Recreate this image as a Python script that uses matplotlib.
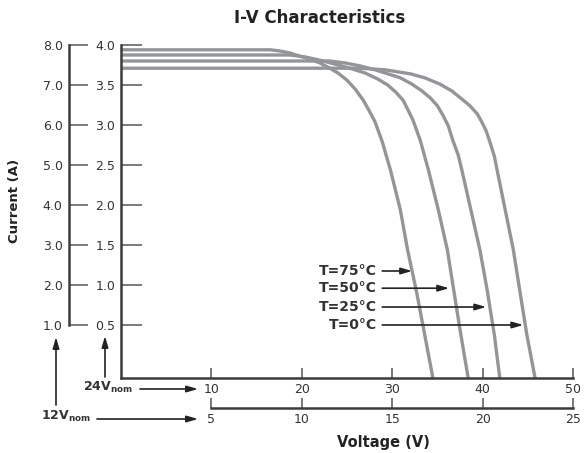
import matplotlib
matplotlib.use("Agg")
import matplotlib.pyplot as plt
from matplotlib.patches import FancyArrowPatch

# I-V curves (24 V nominal scale)
v_75 = [0.0, 16.5, 17.6, 18.7, 19.8, 20.9, 22.0, 23.1, 24.0, 25.0, 25.9, 26.8, 27.4, 28.1,
        28.9, 29.8, 30.9, 31.7, 32.7, 33.6, 34.5]
i_75 = [3.94, 3.94, 3.925, 3.90, 3.86, 3.825, 3.775, 3.71, 3.65, 3.56, 3.45, 3.31, 3.19, 3.04,
        2.79, 2.44, 1.94, 1.44, 0.91, 0.375, -0.16]

v_50 = [0.0, 18.7, 20.4, 22.0, 23.7, 25.3, 27.0, 28.4, 29.5, 30.4, 31.2, 31.7, 32.3, 33.1,
        34.0, 35.1, 36.1, 36.8, 37.6, 38.4]
i_50 = [3.875, 3.875, 3.85, 3.81, 3.76, 3.71, 3.65, 3.575, 3.50, 3.41, 3.31, 3.20, 3.06, 2.81,
        2.44, 1.94, 1.44, 0.94, 0.375, -0.16]

v_25 = [0.0, 23.1, 24.8, 26.4, 28.1, 29.5, 30.9, 32.2, 33.3, 34.2, 35.0, 35.6, 36.2, 36.7,
        37.3, 37.7, 38.7, 39.7, 40.5, 41.3, 41.9]
i_25 = [3.80, 3.80, 3.775, 3.74, 3.69, 3.64, 3.59, 3.51, 3.425, 3.34, 3.24, 3.125, 2.99, 2.81,
        2.625, 2.44, 1.94, 1.44, 0.94, 0.375, -0.16]

v_0 = [0.0, 26.4, 29.2, 32.0, 33.6, 35.3, 36.6, 37.7, 38.6, 39.4, 39.9, 40.4, 40.8, 41.3,
       41.6, 42.5, 43.4, 44.1, 44.9, 45.8]
i_0 = [3.71, 3.71, 3.69, 3.64, 3.59, 3.51, 3.425, 3.325, 3.24, 3.14, 3.04, 2.925, 2.79, 2.61,
       2.44, 1.94, 1.44, 0.94, 0.375, -0.16]

temp_labels = ["T=75°C", "T=50°C", "T=25°C", "T=0°C"]
label_current = [1.175, 0.96, 0.725, 0.5]
arrow_tip_v = [32.2, 36.3, 40.4, 44.5]

x24_ticks = [10, 20, 30, 40, 50]
x12_ticks = [5, 10, 15, 20, 25]
y24_ticks = [0.5, 1.0, 1.5, 2.0, 2.5, 3.0, 3.5, 4.0]
y12_ticks = [1, 2, 3, 4, 5, 6, 7, 8]

W, H = 585, 453
CURVE = "#939598"
AXC = "#3c3c3c"
TXT = "#333333"


def fpos(x, y):
    # reference pixel -> figure fraction
    return x / W, 1 - y / H


fig = plt.figure(figsize=(W / 100, H / 100), dpi=100)
ax = fig.add_axes([121 / W, 1 - 378 / H, 452 / W, 333 / H])

for v, i in [(v_75, i_75), (v_50, i_50), (v_25, i_25), (v_0, i_0)]:
    ax.plot(v, i, color=CURVE, lw=2.4, solid_joinstyle="round")

ax.set_xlim(0, 50)
ax.set_ylim(-0.1625, 4.0)
for s in ["top", "right"]:
    ax.spines[s].set_visible(False)
for s in ["left", "bottom"]:
    ax.spines[s].set_linewidth(1.8)
    ax.spines[s].set_color(AXC)

ax.set_xticks(x24_ticks)
ax.set_xticklabels([str(t) for t in x24_ticks])
ax.set_yticks(y24_ticks)
ax.set_yticklabels([f"{t:.1f}" for t in y24_ticks])
ax.tick_params(axis="y", direction="in", length=15, width=1.1, color="#555555",
               pad=4, labelsize=9, labelcolor=TXT)
ax.tick_params(axis="x", direction="in", length=7, width=1.1, color="#555555",
               pad=3.5, labelsize=9, labelcolor=TXT)

# 12 V nominal current scale
sec_y = ax.secondary_yaxis((69 - 121) / 452, functions=(lambda c: c * 2, lambda c: c / 2))
sec_y.set_yticks(y12_ticks)
sec_y.set_yticklabels([f"{t:.1f}" for t in y12_ticks])
sec_y.spines["left"].set_bounds(1, 8)
sec_y.spines["left"].set_linewidth(1.8)
sec_y.spines["left"].set_color(AXC)
sec_y.tick_params(direction="in", length=13.5, width=1.1, color="#555555",
                  pad=4.5, labelsize=9, labelcolor=TXT)

# 12 V nominal voltage scale
sec_x = ax.secondary_xaxis(-30 / 333, functions=(lambda v: v / 2, lambda v: v * 2))
sec_x.set_xticks(x12_ticks)
sec_x.set_xticklabels([str(t) for t in x12_ticks])
sec_x.spines["bottom"].set_bounds(5, 25)
sec_x.spines["bottom"].set_linewidth(1.8)
sec_x.spines["bottom"].set_color(AXC)
sec_x.tick_params(direction="in", length=7, width=1.1, color="#555555",
                  pad=3.5, labelsize=9, labelcolor=TXT)

arrow = dict(arrowstyle="-|>,head_length=0.55,head_width=0.16", color="#222222",
             lw=1.2, shrinkA=0, shrinkB=0, mutation_scale=12)

for lab, cur, tip in zip(temp_labels, label_current, arrow_tip_v):
    ax.annotate("", xy=(tip, cur), xytext=(28.9, cur), arrowprops=arrow)
    ax.text(28.3, cur, lab, ha="right", va="center", fontsize=10,
            fontweight="bold", color=TXT)

# titles / labels
fig.text(*fpos(320, 18), "I-V Characteristics", ha="center", va="center",
         fontsize=12, fontweight="bold", color="#222222")
fig.text(*fpos(383, 442), "Voltage (V)", ha="center", va="center",
         fontsize=10.5, fontweight="bold", color="#222222")
fig.text(*fpos(15, 201), "Current (A)", ha="center", va="center", rotation=90,
         fontsize=9.5, fontweight="bold", color="#222222")

# nominal system markers
fig.text(*fpos(133, 391), r"$\mathbf{24V}_{\mathbf{nom}}$", ha="right",
         va="baseline", fontsize=9, color=TXT)
fig.text(*fpos(91, 420), r"$\mathbf{12V}_{\mathbf{nom}}$", ha="right",
         va="baseline", fontsize=9, color=TXT)
for start, end in [((140, 389), (198, 389)), ((97, 419), (198, 419)),
                   ((105, 377), (105, 336)), ((56, 405), (56, 337))]:
    fig.add_artist(FancyArrowPatch(fpos(*start), fpos(*end),
                                   transform=fig.transFigure, **arrow))

fig.savefig("out.png", dpi=100)
